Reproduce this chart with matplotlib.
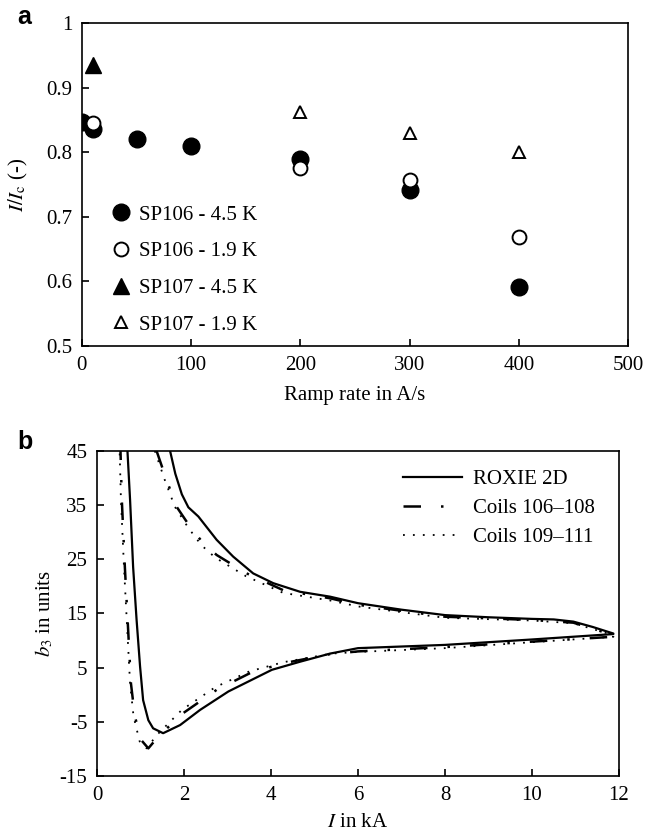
import numpy as np
import matplotlib
matplotlib.use('Agg')
import matplotlib.pyplot as plt

plt.rcParams['font.family'] = ['Liberation Serif', 'DejaVu Serif']
plt.rcParams['mathtext.fontset'] = 'stix'
plt.rcParams['font.size'] = 15
plt.rcParams['axes.unicode_minus'] = False

# ---- panel a data: I/Ic vs ramp rate ----
sp106_45_rate = [0, 10, 50, 100, 200, 300, 400]
sp106_45_val = [0.846, 0.836, 0.820, 0.810, 0.790, 0.742, 0.592]
sp106_19_rate = [10, 200, 300, 400]
sp106_19_val = [0.845, 0.775, 0.757, 0.668]
sp107_45_rate = [10]
sp107_45_val = [0.935]
sp107_19_rate = [200, 300, 400]
sp107_19_val = [0.862, 0.830, 0.800]

# ---- panel b data: b3 vs current (upper branch then lower branch) ----
roxie_up_I = [1.68, 1.80, 1.95, 2.10, 2.33, 2.75, 3.13, 3.59, 4.05, 4.67, 5.36, 6.0, 7.0, 8.0, 9.0, 10.0, 10.5, 10.95, 11.4, 11.87]
roxie_up_b3 = [45.0, 40.8, 37.0, 34.6, 32.9, 28.6, 25.5, 22.4, 20.6, 19.0, 18.1, 16.9, 15.7, 14.7, 14.3, 14.0, 13.9, 13.5, 12.5, 11.3]
roxie_lo_I = [11.87, 10.0, 8.0, 6.0, 5.36, 4.67, 4.02, 3.02, 2.37, 1.91, 1.52, 1.29, 1.18, 1.06, 0.99, 0.91, 0.83, 0.76, 0.70]
roxie_lo_b3 = [11.2, 10.2, 9.2, 8.6, 7.6, 6.1, 4.6, 0.6, -2.8, -5.6, -7.1, -6.2, -4.7, -1.0, 5.2, 13.8, 23.6, 36.0, 45.0]

c106_up_I = [1.37, 1.60, 1.83, 2.14, 2.44, 2.75, 3.44, 4.28, 5.36, 6.0, 8.0, 10.0, 10.95, 11.87]
c106_up_b3 = [45.0, 39.6, 34.7, 31.0, 28.0, 25.8, 22.4, 19.3, 17.8, 16.6, 14.4, 13.8, 13.3, 11.0]
c106_lo_I = [11.87, 10.0, 8.0, 6.0, 5.36, 4.28, 3.52, 2.75, 1.98, 1.41, 1.18, 1.02, 0.87, 0.78, 0.72, 0.64, 0.57, 0.54]
c106_lo_b3 = [10.7, 9.8, 8.8, 8.0, 7.5, 5.8, 4.0, 0.9, -3.4, -7.7, -9.9, -8.4, -4.0, 2.1, 11.3, 23.6, 36.0, 45.0]

c109_up_I = [1.33, 1.56, 1.79, 2.10, 2.40, 2.72, 3.42, 4.28, 5.36, 6.0, 8.0, 10.0, 10.95, 11.87]
c109_up_b3 = [45.0, 39.6, 34.7, 30.8, 27.6, 25.3, 21.9, 18.8, 17.4, 16.3, 14.2, 13.7, 13.2, 11.0]
c109_lo_I = [11.87, 10.0, 8.0, 6.0, 5.4, 4.28, 3.5, 2.72, 1.95, 1.38, 1.14, 0.98, 0.84, 0.76, 0.70, 0.62, 0.55, 0.52]
c109_lo_b3 = [10.7, 9.7, 8.6, 7.9, 7.6, 6.0, 4.3, 1.4, -2.8, -7.4, -9.9, -8.6, -4.0, 2.1, 11.3, 23.6, 36.0, 45.0]

fig = plt.figure(figsize=(6.45, 8.39), dpi=100)

# ---------------- panel a ----------------
ax1 = fig.add_axes([0.127, 0.5876, 0.847, 0.385])
ax1.plot(sp106_45_rate, sp106_45_val, 'o', color='black', markersize=12, label='SP106 - 4.5 K')
ax1.plot(sp106_19_rate, sp106_19_val, 'o', mfc='white', mec='black', mew=1.4, markersize=10, label='SP106 - 1.9 K')
ax1.plot(sp107_45_rate, sp107_45_val, '^', color='black', markersize=11, label='SP107 - 4.5 K')
ax1.plot(sp107_19_rate, sp107_19_val, '^', mfc='white', mec='black', mew=1.4, markersize=8, label='SP107 - 1.9 K')
ax1.set_xlim(0, 500)
ax1.set_ylim(0.5, 1.0)
ax1.set_xticks([0, 100, 200, 300, 400, 500])
ax1.set_yticks([0.5, 0.6, 0.7, 0.8, 0.9, 1.0])
ax1.set_yticklabels(['0.5', '0.6', '0.7', '0.8', '0.9', '1'])
ax1.set_xlabel('Ramp rate in A/s', labelpad=8)
ax1.set_ylabel(r'$I/I_\mathrm{c}$ (-)')
ax1.yaxis.set_label_coords(-0.095, 0.5)
ax1.legend(loc='lower left', bbox_to_anchor=(0.03, -0.01), frameon=False,
           handlelength=0.8, handletextpad=0.45, labelspacing=0.82, borderpad=0.2)

# ---------------- panel b ----------------
ax2 = fig.add_axes([0.1504, 0.0751, 0.8093, 0.3874])
ax2.plot(roxie_up_I + roxie_lo_I, roxie_up_b3 + roxie_lo_b3, color='black', lw=1.6, label='ROXIE 2D')
ax2.plot(c106_up_I + c106_lo_I, c106_up_b3 + c106_lo_b3, color='black', lw=1.8,
         linestyle=(0, (7, 8, 1, 8)), label='Coils 106\u2013108')
ax2.plot(c109_up_I + c109_lo_I, c109_up_b3 + c109_lo_b3, color='black', lw=1.3,
         linestyle=(0, (1, 4.5)), label='Coils 109\u2013111')
ax2.set_xlim(0, 12)
ax2.set_ylim(-15, 45)
ax2.set_xticks([0, 2, 4, 6, 8, 10, 12])
ax2.set_yticks([-15, -5, 5, 15, 25, 35, 45])
ax2.set_xlabel(r'$I$ in kA', labelpad=6)
ax2.set_ylabel(r'$b_3$ in units')
ax2.yaxis.set_label_coords(-0.08, 0.5)
ax2.legend(loc='upper right', bbox_to_anchor=(0.99, 1.0), frameon=False,
           handlelength=2.8, handletextpad=0.55, labelspacing=0.45)

for ax in (ax1, ax2):
    for s in ax.spines.values():
        s.set_linewidth(1.2)
    ax.tick_params(direction='in', length=5, width=1.2, top=False, right=False, pad=7)

fig.text(0.027, 0.994, 'a', fontsize=18, fontweight='bold', family='Liberation Sans', va='top')
fig.text(0.027, 0.488, 'b', fontsize=18, fontweight='bold', family='Liberation Sans', va='top')

fig.savefig('out.png', dpi=100)
